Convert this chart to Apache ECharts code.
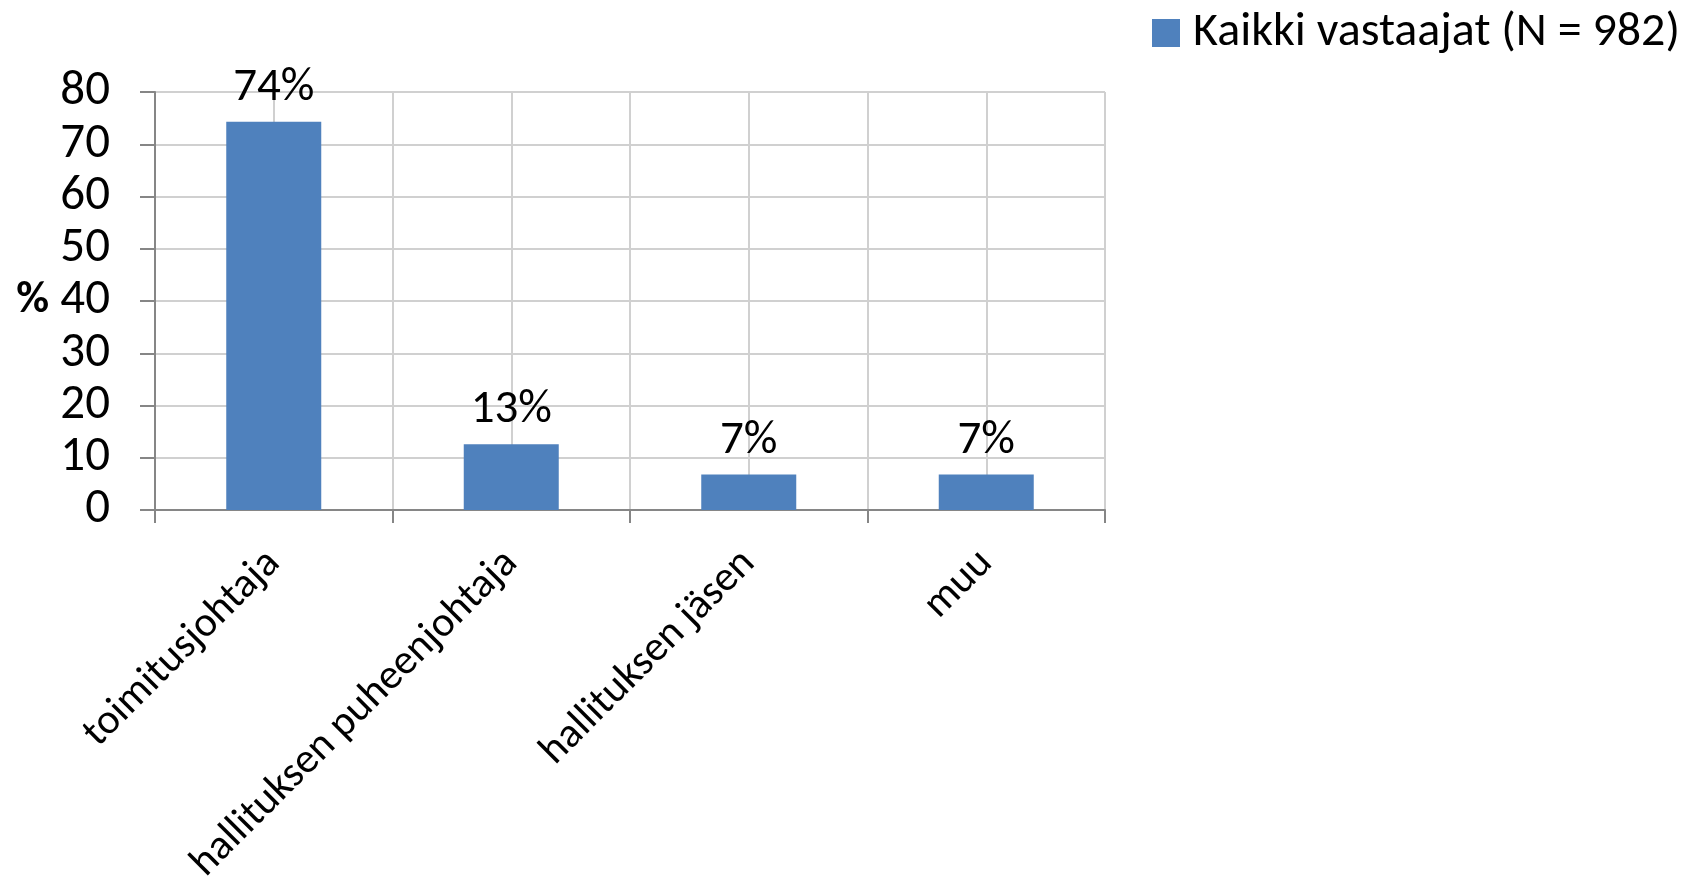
<!DOCTYPE html>
<html><head><meta charset="utf-8">
<script src="https://cdn.jsdelivr.net/npm/echarts@6/dist/echarts.min.js"></script>
<style>html,body{margin:0;padding:0;background:#fff}#c{width:1698px;height:883px}</style>
</head><body><div id="c"></div>
<script>
const categories = ["toimitusjohtaja", "hallituksen puheenjohtaja", "hallituksen jäsen", "muu"];
const values = [74.3, 12.6, 6.8, 6.8];
const valueLabels = ["74%", "13%", "7%", "7%"];
const seriesName = "Kaikki vastaajat (N = 982)";
const yTicks = [0, 10, 20, 30, 40, 50, 60, 70, 80];

const FONT = 'Carlito, "Noto Sans", sans-serif';
const chart = echarts.init(document.getElementById('c'), null, {renderer: 'canvas'});
chart.setOption({
  animation: false,
  backgroundColor: '#fff',
  textStyle: {fontFamily: FONT, color: '#000'},
  legend: {
    right: 13, top: 4,
    itemWidth: 28, itemHeight: 28, icon: 'rect',
    textStyle: {fontSize: 48, color: '#000', fontFamily: FONT, padding: [0, 0, 0, 8]},
    data: [seriesName]
  },
  grid: {left: 155, right: 593, top: 92, bottom: 373, containLabel: false, outerBoundsMode: 'none'},
  xAxis: [{
    type: 'category',
    data: categories,
    axisLine: {lineStyle: {color: '#868686', width: 2}},
    axisTick: {show: true, length: 13, lineStyle: {color: '#868686', width: 2}},
    splitLine: {show: true, lineStyle: {color: '#d0d0d0', width: 2}},
    axisLabel: {rotate: 45, fontSize: 42, color: '#000', fontFamily: FONT, margin: 47, interval: 0}
  }, {
    type: 'value', min: 0, max: 8, interval: 1,
    show: true,
    axisLine: {show: false}, axisTick: {show: false}, axisLabel: {show: false},
    splitLine: {show: true, lineStyle: {color: '#d0d0d0', width: 2}}
  }],
  yAxis: {
    type: 'value', min: 0, max: 80, interval: 10,
    name: '%', nameLocation: 'middle', nameRotate: 0, nameGap: 106,
    nameTextStyle: {fontSize: 45, fontWeight: 'bold', color: '#000', fontFamily: FONT},
    axisLine: {show: true, lineStyle: {color: '#868686', width: 2}},
    axisTick: {show: true, length: 15, lineStyle: {color: '#868686', width: 2}},
    splitLine: {show: true, lineStyle: {color: '#d0d0d0', width: 2}},
    axisLabel: {fontSize: 49, color: '#000', fontFamily: FONT, margin: 45,
      formatter: v => yTicks.includes(v) ? String(v) : ''}
  },
  series: [{
    name: seriesName,
    type: 'bar',
    xAxisIndex: 0,
    data: values,
    barWidth: '40%',
    itemStyle: {color: '#4F81BD'},
    label: {show: true, position: 'top', distance: 10, fontSize: 47, color: '#000', fontFamily: FONT,
      formatter: p => valueLabels[p.dataIndex]}
  }]
});
</script></body></html>
